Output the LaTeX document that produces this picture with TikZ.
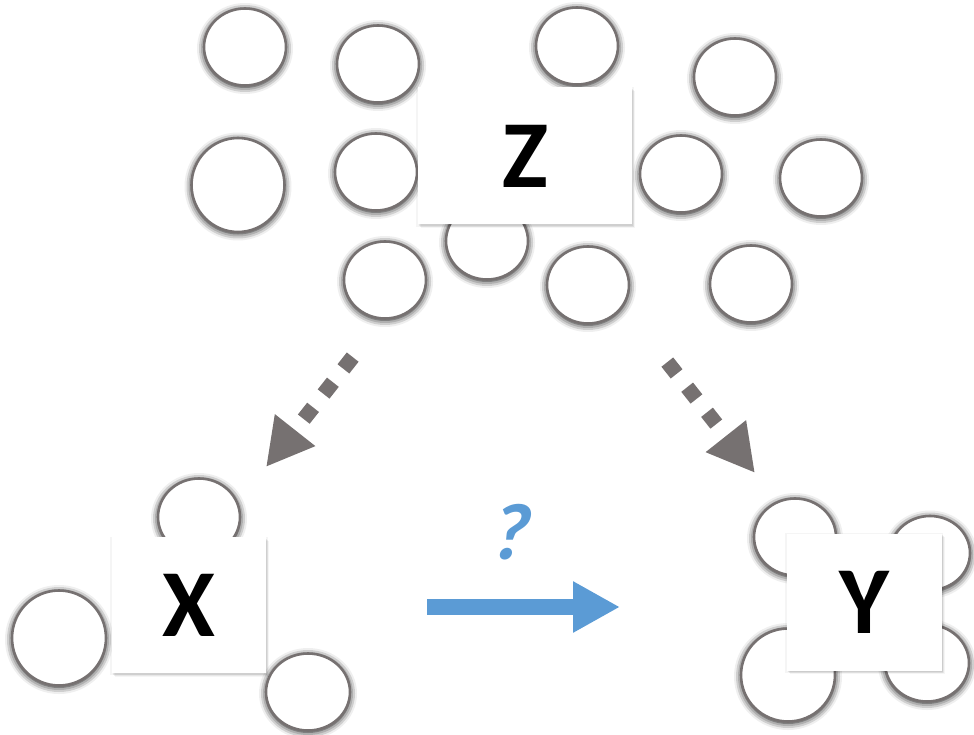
\documentclass[tikz,border=0pt]{standalone}
\usepackage{fontspec}
\setmainfont{Carlito}
\newfontfamily\qfont[FakeSlant=0.22]{Carlito}
\usetikzlibrary{shapes.geometric,arrows.meta,shadows,shadows.blur}
\definecolor{cgray}{HTML}{767171}
\definecolor{cblue}{HTML}{5B9BD5}
\begin{document}
\begin{tikzpicture}[x=1pt,y=-1pt,
  circ/.style={ellipse, draw=cgray, line width=2.6pt, fill=white, inner sep=0pt,
    minimum width=82pt, minimum height=77pt,
    blur shadow={shadow xshift=0pt, shadow yshift=-1.5pt, shadow blur radius=7pt, shadow opacity=100}},
  bigcirc/.style={circ, minimum width=93pt, minimum height=94pt},
  box/.style={rectangle, fill=white, inner sep=0pt,
    general shadow={shadow xshift=0pt, shadow yshift=-1pt, shadow scale=1.02, fill=black, opacity=0.04},
    general shadow={shadow xshift=1pt, shadow yshift=-1.5pt, fill=black, opacity=0.07},
    general shadow={shadow xshift=2pt, shadow yshift=-2.5pt, fill=black, opacity=0.06},
    general shadow={shadow xshift=3pt, shadow yshift=-3.5pt, fill=black, opacity=0.04},
    font=\fontsize{96}{96}\selectfont\bfseries},
  dotarrow/.style={draw=cgray, line width=15pt, dash pattern=on 15pt off 17pt,
    -{Triangle[length=47pt,width=48pt]}},
  bluearrow/.style={draw=cblue, line width=16pt, -{Triangle[length=47pt,width=48pt]}}
]
\useasboundingbox (0,0) rectangle (974,735);
% Z cluster
\node[circ] (c1) at (245,47) {};
\node[circ] (c2) at (378,64) {};
\node[circ] (c3) at (577,46) {};
\node[circ] (c4) at (735,77) {};
\node[bigcirc] (c5) at (238,185) {};
\node[circ] (c6) at (376,172) {};
\node[circ] (c7) at (681,174) {};
\node[circ] (c8) at (821,178) {};
\node[circ] (c9) at (385,280) {};
\node[circ] (c10) at (487,241) {};
\node[circ] (c11) at (588,285) {};
\node[circ] (c12) at (751,284) {};
\node[box, minimum width=214pt, minimum height=137pt] (Z) at (525,156) {Z};
% X cluster
\node[circ] (x1) at (199,517) {};
\node[bigcirc, minimum width=94pt, minimum height=95pt] (x2) at (59,638) {};
\node[circ, minimum width=84pt] (x3) at (308,692) {};
\node[box, minimum width=154pt, minimum height=136pt] (X) at (189,605) {X};
% Y cluster
\node[circ] (y1) at (795,537) {};
\node[circ, minimum width=80pt, minimum height=74pt] (y2) at (930,553) {};
\node[bigcirc, minimum width=94pt, minimum height=93pt] (y3) at (788,675) {};
\node[circ, minimum width=84pt] (y4) at (927,663) {};
\node[box, minimum width=155pt, minimum height=137pt] (Y) at (864,602) {Y};
% arrows
\coordinate (zx) at (352.7,357.1);
\coordinate (xz) at (266,467);
\coordinate (zy) at (667.3,362.1);
\coordinate (yz) at (755,473);
\coordinate (bs) at (427,607);
\coordinate (be) at (620,607);
\draw[dotarrow] (zx) -- (xz);
\draw[dotarrow] (zy) -- (yz);
\draw[bluearrow] (bs) -- (be);
\node[text=cblue, font=\fontsize{80}{80}\selectfont\qfont\bfseries] (q) at (507,532) {?};
\end{tikzpicture}
\end{document}
